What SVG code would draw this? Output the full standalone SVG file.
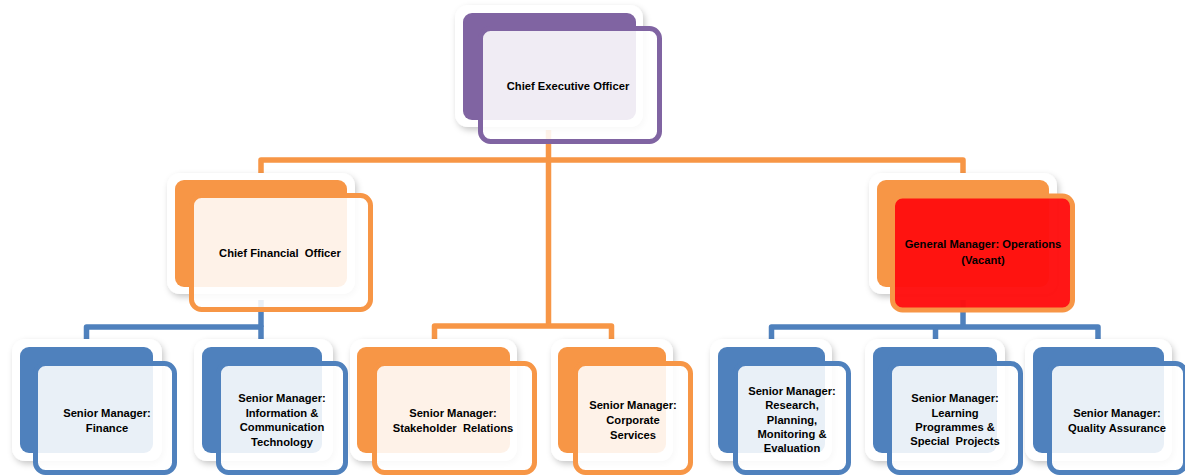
<svg xmlns="http://www.w3.org/2000/svg" width="1185" height="476" viewBox="0 0 1185 476">
<defs>
<filter id="sh" x="-10%" y="-10%" width="125%" height="130%">
<feDropShadow dx="2" dy="3" stdDeviation="3" flood-color="#000" flood-opacity="0.22"/>
</filter>
<style>
.bd{fill:#fff;filter:url(#sh)}
.bk{stroke:none}
.fr{fill:#fff;fill-opacity:0.88;stroke-width:5}
.pu{fill:#8064a2}
.or{fill:#f79646}
.bl{fill:#4f81bd}
.spu{stroke:#8064a2}
.sor{stroke:#f79646}
.sbl{stroke:#4f81bd}
.red{fill:#ff0e0e;fill-opacity:0.97}
.con{fill:none;stroke-width:5.5;stroke-linejoin:round}
.co{stroke:#f79646}
.cb{stroke:#4f81bd}
text{font-family:"Liberation Sans",Arial,sans-serif;font-weight:bold;font-size:11.2px;fill:#000;text-anchor:middle}
</style>
</defs>
<rect width="1185" height="476" fill="#fff"/>
<g id="connectors">
<path class="con co" d="M548.5,130 V326"/>
<path class="con co" d="M261,182 V160 H963 V182"/>
<path class="con co" d="M434.5,345 V326 H611.5 V345"/>
<path class="con cb" d="M261,300 V327"/>
<path class="con cb" d="M86.5,345 V327 H261 V345"/>
<path class="con cb" d="M963,300 V327"/>
<path class="con cb" d="M771.5,345 V327 H1098 V345"/>
<path class="con cb" d="M935.5,327 V345"/>
</g>
<g id="ceo">
<rect class="bd" x="455" y="5" width="188" height="122" rx="13"/>
<rect class="bk pu" x="463" y="13" width="173" height="107" rx="9"/>
<rect class="fr spu" x="480.5" y="28.5" width="179" height="113" rx="10"/>
<text x="568" y="90">Chief Executive Officer</text>
</g>
<g id="cfo">
<rect class="bd" x="167" y="173" width="188" height="121" rx="13"/>
<rect class="bk or" x="175" y="180" width="172" height="107" rx="9"/>
<rect class="fr sor" x="191.5" y="195.5" width="179" height="114" rx="10"/>
<text x="280" y="257" xml:space="preserve">Chief Financial  Officer</text>
</g>
<g id="gm">
<rect class="bd" x="869" y="173" width="188" height="121" rx="13"/>
<rect class="bk or" x="877" y="180" width="172" height="107" rx="9"/>
<rect class="red sor" x="892.5" y="196" width="180" height="114" rx="10" stroke-width="5"/>
<text x="983" y="248">General Manager: Operations</text>
<text x="983" y="264">(Vacant)</text>
</g>
<g id="sm-finance">
<rect class="bd" x="12" y="339" width="150" height="122" rx="13"/>
<rect class="bk bl" x="20" y="347" width="133" height="106" rx="9"/>
<rect class="fr sbl" x="35.5" y="363.5" width="139" height="109" rx="10"/>
<text x="107" y="417">Senior Manager:</text>
<text x="107" y="432">Finance</text>
</g>
<g id="sm-ict">
<rect class="bd" x="194" y="339" width="139" height="122" rx="13"/>
<rect class="bk bl" x="202" y="347" width="120" height="106" rx="9"/>
<rect class="fr sbl" x="218.5" y="363.5" width="127" height="109" rx="10"/>
<text x="282" y="402">Senior Manager:</text>
<text x="282" y="416.5">Information &amp;</text>
<text x="282" y="431">Communication</text>
<text x="282" y="445.5">Technology</text>
</g>
<g id="sm-stakeholder">
<rect class="bd" x="350" y="339" width="167" height="122" rx="13"/>
<rect class="bk or" x="357" y="347" width="153" height="106" rx="9"/>
<rect class="fr sor" x="374.5" y="363.5" width="160" height="109" rx="10"/>
<text x="453" y="417">Senior Manager:</text>
<text x="453" y="432" xml:space="preserve">Stakeholder  Relations</text>
</g>
<g id="sm-corporate">
<rect class="bd" x="551" y="339" width="122" height="122" rx="13"/>
<rect class="bk or" x="558" y="347" width="108" height="106" rx="9"/>
<rect class="fr sor" x="575.5" y="363.5" width="115" height="109" rx="10"/>
<text x="633" y="409">Senior Manager:</text>
<text x="633" y="424">Corporate</text>
<text x="633" y="439">Services</text>
</g>
<g id="sm-research">
<rect class="bd" x="710" y="339" width="122" height="122" rx="13"/>
<rect class="bk bl" x="718" y="347" width="107" height="106" rx="9"/>
<rect class="fr sbl" x="735.5" y="363.5" width="113" height="109" rx="10"/>
<text x="792" y="395">Senior Manager:</text>
<text x="792" y="409">Research,</text>
<text x="792" y="424">Planning,</text>
<text x="792" y="438">Monitoring &amp;</text>
<text x="792" y="452">Evaluation</text>
</g>
<g id="sm-learning">
<rect class="bd" x="865" y="339" width="140" height="122" rx="13"/>
<rect class="bk bl" x="873" y="347" width="124" height="106" rx="9"/>
<rect class="fr sbl" x="889.5" y="363.5" width="131" height="109" rx="10"/>
<text x="955" y="402">Senior Manager:</text>
<text x="955" y="417">Learning</text>
<text x="955" y="431">Programmes &amp;</text>
<text x="955" y="445" xml:space="preserve">Special  Projects</text>
</g>
<g id="sm-quality">
<rect class="bd" x="1025" y="339" width="147" height="122" rx="13"/>
<rect class="bk bl" x="1033" y="347" width="131" height="106" rx="9"/>
<rect class="fr sbl" x="1049.5" y="363.5" width="136" height="109" rx="10"/>
<text x="1117" y="417">Senior Manager:</text>
<text x="1117" y="432">Quality Assurance</text>
</g>
</svg>
